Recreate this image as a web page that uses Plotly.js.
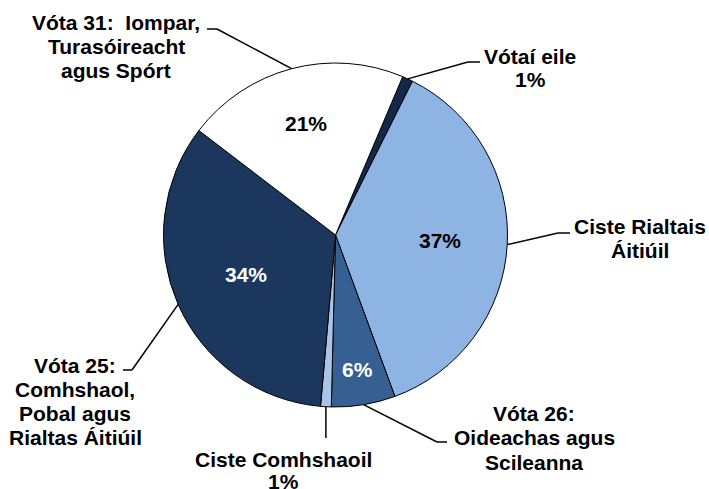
<!DOCTYPE html>
<html>
<head>
<meta charset="utf-8">
<script src="https://cdn.plot.ly/plotly-3.0.1.min.js"></script>
<style>html,body{margin:0;padding:0;background:#fff;}#chart{width:709px;height:489px;}</style>
</head>
<body>
<div id="chart"></div>
<script>
// ---- data ----
const categories = ['Vótaí eile', 'Ciste Rialtais Áitiúil', 'Vóta 26: Oideachas agus Scileanna', 'Ciste Comhshaoil', 'Vóta 25: Comhshaol, Pobal agus Rialtas Áitiúil', 'Vóta 31: Iompar, Turasóireacht agus Spórt'];
const values = [1, 37, 6, 1, 34, 21];
const labelLines = [
  ['Vótaí eile', '1%'],
  ['Ciste Rialtais', 'Áitiúil'],
  ['Vóta 26:', 'Oideachas agus', 'Scileanna'],
  ['Ciste Comhshaoil', '1%'],
  ['Vóta 25:', 'Comhshaol,', 'Pobal agus', 'Rialtas Áitiúil'],
  ['Vóta 31:  Iompar,', 'Turasóireacht', 'agus Spórt']
];
const showInside = [false, true, true, false, true, true];

// ---- styling / layout ----
const colors = ['#14284a', '#8db4e2', '#366092', '#a9c4e6', '#1b375e', '#ffffff'];
const insideColors = ['#000', '#000', '#fff', '#000', '#fff', '#000'];
const insideRadius = [0, 0.61, 0.79, 0, 0.57, 0.67];
const W = 709, H = 489;
const CX = 335.5, CY = 235, R = 172;
const ROT = 23;
const FONT = 'Liberation Sans, Arial, Helvetica, sans-serif';
const FS = 21;
// label placement: center x, cap-middle y of first line, line spacing (px)
const labelPos = [[530, 56, 24], [640, 226, 24], [534, 413, 24.5], [283, 459, 22], [75, 365, 24], [116, 22, 24.5]];
// leader: elbow point, and end point (px)
const leaders = [
  [[468, 62], [480, 62]],
  [[558, 233], [570, 233]],
  [[437, 442], [447, 442]],
  [null, [null, 438]],
  [[132, 370], [123, 370]],
  [[217, 29], [207, 29]]
];

const px = x => x / W;
const py = y => 1 - y / H;

const total = values.reduce((a, b) => a + b, 0);
const midAngles = [];
let acc = 0;
values.forEach(v => {
  midAngles.push(ROT + (acc + v / 2) / total * 360);
  acc += v;
});

const annotations = [];
const shapes = [];

values.forEach((v, i) => {
  const a = midAngles[i] * Math.PI / 180;
  if (showInside[i]) {
    const f = insideRadius[i];
    annotations.push({
      text: Math.round(v / total * 100) + '%',
      x: px(CX + R * f * Math.sin(a)), y: py(CY - R * f * Math.cos(a)),
      xref: 'paper', yref: 'paper', showarrow: false,
      xanchor: 'center', yanchor: 'middle',
      font: {family: FONT, size: FS, color: insideColors[i], weight: 'bold'}
    });
  }
  labelLines[i].forEach((t, k) => {
    annotations.push({
      text: t,
      x: px(labelPos[i][0]), y: py(labelPos[i][1] + k * labelPos[i][2]),
      xref: 'paper', yref: 'paper', showarrow: false,
      xanchor: 'center', yanchor: 'middle',
      font: {family: FONT, size: FS, color: '#000', weight: 'bold'}
    });
  });
  const ex = CX + R * Math.sin(a), ey = CY - R * Math.cos(a);
  const [elbow, end] = leaders[i];
  const pts = elbow === null ? [[ex, ey], [ex, end[1]]] : [[ex, ey], elbow, end];
  for (let k = 0; k < pts.length - 1; k++) {
    shapes.push({
      type: 'line', xref: 'paper', yref: 'paper',
      x0: px(pts[k][0]), y0: py(pts[k][1]), x1: px(pts[k + 1][0]), y1: py(pts[k + 1][1]),
      line: {color: '#000', width: 1.5}
    });
  }
});

const trace = {
  type: 'pie',
  labels: categories,
  values: values,
  sort: false,
  direction: 'clockwise',
  rotation: ROT,
  marker: {colors: colors, line: {color: '#000', width: 1}},
  textinfo: 'none',
  hoverinfo: 'label+percent',
  domain: {x: [px(CX - R), px(CX + R)], y: [py(CY + R), py(CY - R)]},
  showlegend: false
};

Plotly.newPlot('chart', [trace], {
  width: W, height: H,
  margin: {l: 0, r: 0, t: 0, b: 0},
  paper_bgcolor: '#fff',
  showlegend: false,
  annotations: annotations,
  shapes: shapes
}, {displayModeBar: false, staticPlot: true});
</script>
</body>
</html>
